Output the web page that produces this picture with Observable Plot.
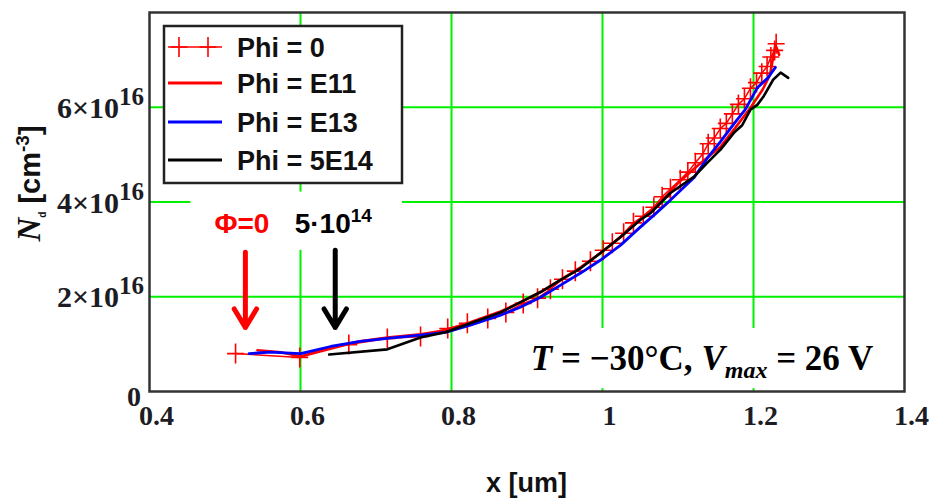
<!DOCTYPE html>
<html>
<head>
<meta charset="utf-8">
<script src="https://cdn.jsdelivr.net/npm/d3@7"></script>
<script src="https://cdn.jsdelivr.net/npm/@observablehq/plot@0.6"></script>
<style>
  body { margin: 0; background: #fff; }
  #chart { width: 932px; height: 501px; }
</style>
</head>
<body>
<div id="chart"></div>
<script>
// Doping profile N_d(x) for four fluences, T = -30 °C, Vmax = 26 V.
// Depth x in µm, concentration in units of 1e16 cm^-3.

const seriesNames = ["Phi = 0", "Phi = E11", "Phi = E13", "Phi = 5E14"];
const seriesColors = ["#ff0000", "#ff0000", "#0000ff", "#000000"];

const phi0X = [0.514, 0.599, 0.664, 0.715, 0.759, 0.795, 0.821, 0.848, 0.872, 0.895, 0.914, 0.931, 0.947, 0.964, 0.984, 1.001, 1.013, 1.028, 1.041, 1.054, 1.068, 1.079, 1.090, 1.103, 1.113, 1.123, 1.133, 1.140, 1.148, 1.156, 1.164, 1.172, 1.180, 1.188, 1.196, 1.204, 1.211, 1.218, 1.223, 1.228, 1.230];
const phi0N = [0.80, 0.72, 0.99, 1.12, 1.16, 1.33, 1.44, 1.54, 1.67, 1.86, 1.97, 2.16, 2.37, 2.54, 2.75, 2.98, 3.13, 3.34, 3.56, 3.70, 3.89, 4.11, 4.28, 4.47, 4.63, 4.83, 5.02, 5.23, 5.35, 5.55, 5.66, 5.86, 6.06, 6.18, 6.40, 6.52, 6.72, 6.86, 7.06, 7.20, 7.34];

const e11X = [0.543, 0.574, 0.600, 0.640, 0.679, 0.715, 0.759, 0.792, 0.825, 0.865, 0.891, 0.918, 0.944, 0.971, 0.997, 1.024, 1.050, 1.077, 1.100, 1.127, 1.156, 1.176, 1.196, 1.212, 1.222, 1.229, 1.234];
const e11N = [0.87, 0.83, 0.74, 0.93, 1.06, 1.14, 1.21, 1.29, 1.46, 1.69, 1.88, 2.10, 2.35, 2.62, 2.92, 3.26, 3.64, 4.00, 4.40, 4.78, 5.16, 5.57, 5.99, 6.37, 6.69, 7.32, 7.11];

const e13X = [0.532, 0.560, 0.600, 0.640, 0.679, 0.715, 0.759, 0.792, 0.825, 0.865, 0.891, 0.918, 0.944, 0.971, 0.997, 1.024, 1.050, 1.070, 1.090, 1.121, 1.139, 1.156, 1.174, 1.189, 1.205, 1.219, 1.229];
const e13N = [0.80, 0.83, 0.80, 0.95, 1.06, 1.12, 1.19, 1.25, 1.40, 1.61, 1.78, 1.99, 2.24, 2.50, 2.77, 3.09, 3.47, 3.75, 4.04, 4.51, 4.93, 5.27, 5.65, 5.95, 6.41, 6.62, 6.84];

const e14X = [0.638, 0.715, 0.759, 0.792, 0.825, 0.865, 0.891, 0.918, 0.944, 0.971, 0.997, 1.024, 1.050, 1.064, 1.090, 1.121, 1.139, 1.156, 1.174, 1.185, 1.196, 1.205, 1.213, 1.226, 1.236, 1.246];
const e14N = [0.78, 0.89, 1.14, 1.25, 1.44, 1.67, 1.88, 2.10, 2.35, 2.60, 2.92, 3.26, 3.62, 3.77, 4.19, 4.53, 4.83, 5.10, 5.46, 5.62, 5.95, 6.05, 6.22, 6.58, 6.73, 6.62];

const xTicks = [0.4, 0.6, 0.8, 1, 1.2, 1.4];
const xGrid = [0.6, 0.8, 1, 1.2];
const yTicks = [0, 2, 4, 6];
const yGrid = [2, 4, 6];
const yExponent = "16";

// Annotations: arrows marking where each profile starts, plus their labels
const arrows = [
  {x: 0.527, y1: 2.94, y2: 1.35, color: "#ff0000"},
  {x: 0.646, y1: 2.98, y2: 1.35, color: "#000000"}
];
const labelPhi0 = {x: 0.523, y: 3.34, text: "Φ=0"};
const labelFluence = {x: 0.593, y: 3.34, base: "5·10", exp: "14"};
const conditionLabel = {x: 1.1325, y: 0.44};
// White panels behind the annotation texts
const panels = [
  {x1: 0.455, x2: 0.735, y1: 2.98, y2: 4.21},
  {x1: 0.891, x2: 1.381, y1: 0.06, y2: 1.33}
];

const toRows = (xs, ns) => xs.map((x, i) => ({x, n: ns[i]}));
const rowsPhi0 = toRows(phi0X, phi0N);
const rowsE11 = toRows(e11X, e11N);
const rowsE13 = toRows(e13X, e13N);
const rowsE14 = toRows(e14X, e14N);

// "+" marker drawn as two strokes (taller than wide)
const plusMarker = {
  draw(context, size) {
    const r = Math.sqrt(size / Math.PI);
    const w = r * 0.85;
    context.moveTo(-w, 0); context.lineTo(w, 0);
    context.moveTo(0, -r); context.lineTo(0, r);
  }
};

const SERIF = "Liberation Serif, Times New Roman, serif";
const SANS = "Liberation Sans, Arial, sans-serif";
const GREEN = "#00f000";

const plot = Plot.plot({
  width: 932,
  height: 501,
  marginLeft: 149,
  marginRight: 28,
  marginTop: 12,
  marginBottom: 110,
  style: {background: "#fff", fontFamily: SERIF, overflow: "visible"},
  x: {domain: [0.4, 1.4]},
  y: {domain: [0, 8]},
  color: {type: "identity"},
  marks: [
    Plot.gridX(xGrid, {stroke: GREEN, strokeOpacity: 1, strokeWidth: 2}),
    Plot.gridY(yGrid, {stroke: GREEN, strokeOpacity: 1, strokeWidth: 2}),
    Plot.rect(panels, {x1: "x1", x2: "x2", y1: "y1", y2: "y2", fill: "#fff"}),
    Plot.line(rowsPhi0, {x: "x", y: "n", stroke: seriesColors[0], strokeWidth: 1.5}),
    Plot.dot(rowsPhi0, {x: "x", y: "n", symbol: plusMarker, r: 10, stroke: seriesColors[0], strokeWidth: 1.6, fill: "none"}),
    Plot.line(rowsE11, {x: "x", y: "n", stroke: seriesColors[1], strokeWidth: 2.6}),
    Plot.line(rowsE13, {x: "x", y: "n", stroke: seriesColors[2], strokeWidth: 2.8}),
    Plot.line(rowsE14, {x: "x", y: "n", stroke: seriesColors[3], strokeWidth: 2.6}),
    Plot.arrow(arrows, {x1: "x", x2: "x", y1: "y1", y2: "y2", stroke: "color", strokeWidth: 5, headLength: 6.5, headAngle: 62}),
    Plot.axisX(xTicks, {
      tickSize: 0, tickPadding: 14, dx: 7, label: null,
      fontWeight: "bold", fill: "#1c1c24",
      tickFormat: d => d3.format("~g")(d)
    }),
    Plot.axisY(yTicks, {tickSize: 0, label: null, tickFormat: () => ""}),
    Plot.frame({stroke: "#333", strokeWidth: 2.5})
  ]
});

document.getElementById("chart").append(plot);

const svg = d3.select(plot);
const xs = plot.scale("x"), ys = plot.scale("y");
const X = v => xs.apply(v), Y = v => ys.apply(v);

// Tick label typography
svg.selectAll('g[aria-label="x-axis tick label"] text')
  .style("font-size", "28px").style("font-family", SERIF).style("font-weight", "bold");

const layer = svg.append("g").attr("text-anchor", "start");

const frameLeft = xs.range[0], frameRight = xs.range[1];
const frameTop = ys.range[1], frameBottom = ys.range[0];

// y tick labels: mantissa ×10 with a raised exponent, placed through the y scale
yTicks.forEach(d => {
  const t = layer.append("text")
    .attr("x", frameLeft - (d === 0 ? 8 : 5))
    .attr("y", Y(d) + (d === 0 ? 15 : 11))
    .attr("text-anchor", "end")
    .attr("font-family", SERIF).attr("font-weight", "bold").attr("font-size", 28)
    .attr("fill", "#1c1c24");
  if (d === 0) {
    t.text("0");
  } else {
    t.append("tspan").attr("font-size", 30).text(`${d}×10`);
    t.append("tspan").attr("font-size", 25).attr("dy", -13).text(yExponent);
  }
});

// Axis titles
layer.append("text")
  .attr("x", (frameLeft + frameRight) / 2)
  .attr("y", 492)
  .attr("text-anchor", "middle")
  .attr("font-family", SANS).attr("font-weight", "bold").attr("font-size", 27)
  .attr("fill", "#111")
  .text("x [um]");

const yTitle = layer.append("text")
  .attr("transform", `translate(40, ${(frameTop + frameBottom) / 2 - 18}) rotate(-90)`)
  .attr("text-anchor", "middle")
  .attr("font-family", SANS).attr("font-weight", "bold").attr("font-size", 29)
  .attr("fill", "#111");
yTitle.append("tspan").attr("font-family", SERIF).attr("font-style", "italic").attr("font-size", 33).text("N");
yTitle.append("tspan").attr("font-size", 10).attr("dy", 6).text("d");
yTitle.append("tspan").attr("dy", -6).text(" [cm");
yTitle.append("tspan").attr("font-size", 19).attr("dy", -11).text("-3");
yTitle.append("tspan").attr("dy", 11).text("]");

// Fluence labels above the arrows
layer.append("text")
  .attr("x", X(labelPhi0.x)).attr("y", Y(labelPhi0.y))
  .attr("text-anchor", "middle")
  .attr("font-family", SANS).attr("font-weight", "bold").attr("font-size", 28)
  .attr("fill", "#ff0000")
  .text(labelPhi0.text);

const fl = layer.append("text")
  .attr("x", X(labelFluence.x)).attr("y", Y(labelFluence.y))
  .attr("text-anchor", "start")
  .attr("font-family", SANS).attr("font-weight", "bold").attr("font-size", 28)
  .attr("fill", "#000");
fl.append("tspan").text(labelFluence.base);
fl.append("tspan").attr("font-size", 19).attr("dy", -11).text(labelFluence.exp);

// Measurement conditions
const cond = layer.append("text")
  .attr("x", X(conditionLabel.x)).attr("y", Y(conditionLabel.y))
  .attr("text-anchor", "middle")
  .attr("font-family", SERIF).attr("font-weight", "bold").attr("font-size", 35)
  .attr("fill", "#000");
cond.append("tspan").attr("font-style", "italic").text("T");
cond.append("tspan").text(" = −30°C, ");
cond.append("tspan").attr("font-style", "italic").text("V");
cond.append("tspan").attr("font-style", "italic").attr("font-size", 24).attr("dy", 8).text("max");
cond.append("tspan").attr("dy", -8).text(" = 26 V");

// Legend box in the upper-left corner of the frame
const lg = layer.append("g").attr("transform", `translate(${frameLeft + 15}, ${frameTop + 14})`);
lg.append("rect").attr("width", 238).attr("height", 157)
  .attr("fill", "#fff").attr("stroke", "#222").attr("stroke-width", 2.5);
const rowY = [21, 57, 96, 134];
seriesNames.forEach((name, i) => {
  const cy = rowY[i];
  lg.append("line").attr("x1", 4).attr("x2", 58).attr("y1", cy).attr("y2", cy)
    .attr("stroke", seriesColors[i]).attr("stroke-width", i === 0 ? 1.5 : 3);
  if (i === 0) {
    [15, 44].forEach(mx => {
      lg.append("path")
        .attr("d", `M${mx - 8.5},${cy}H${mx + 8.5}M${mx},${cy - 10}V${cy + 10}`)
        .attr("stroke", seriesColors[i]).attr("stroke-width", 1.6).attr("fill", "none");
    });
  }
  lg.append("text").attr("x", 73).attr("y", cy).attr("dy", "0.36em")
    .attr("text-anchor", "start")
    .attr("font-family", SANS).attr("font-weight", "bold").attr("font-size", 27)
    .attr("fill", "#111")
    .text(name);
});
</script>
</body>
</html>
